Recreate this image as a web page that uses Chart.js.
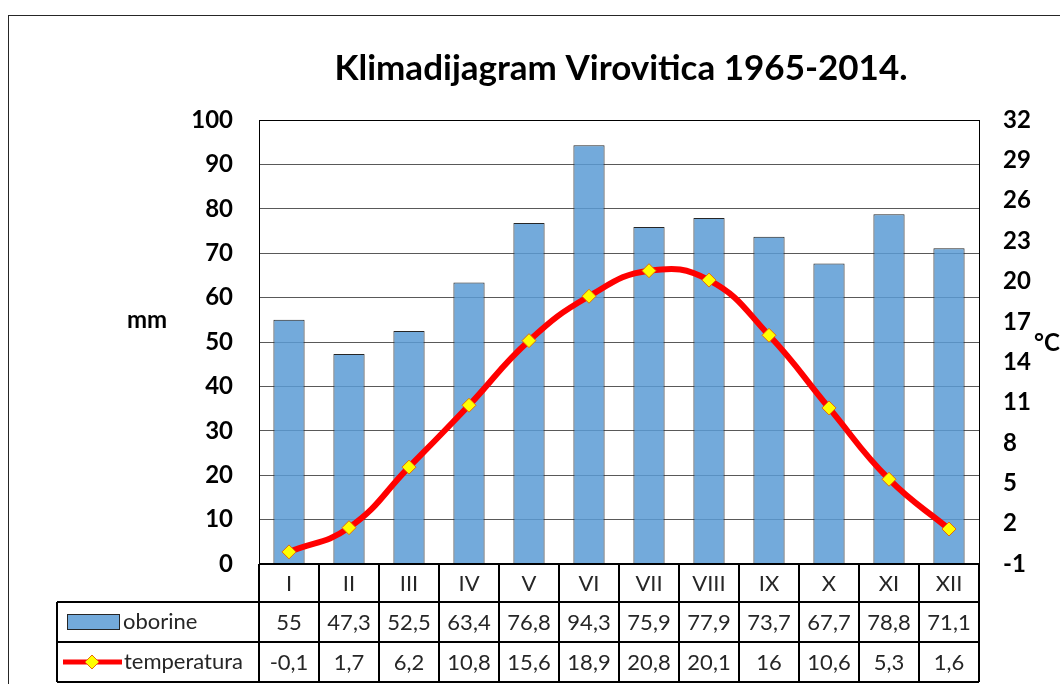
<!DOCTYPE html>
<html>
<head>
<meta charset="utf-8">
<script src="https://cdn.jsdelivr.net/npm/chart.js@4"></script>
<style>
  html, body { margin: 0; padding: 0; background: #fff; }
  #wrap { width: 1060px; height: 684px; }
</style>
</head>
<body>
<div id="wrap"><canvas id="myChart" width="1060" height="684"></canvas></div>
<script>
const months = ['I', 'II', 'III', 'IV', 'V', 'VI', 'VII', 'VIII', 'IX', 'X', 'XI', 'XII'];
const oborine = [55, 47.3, 52.5, 63.4, 76.8, 94.3, 75.9, 77.9, 73.7, 67.7, 78.8, 71.1];
const temperatura = [-0.1, 1.7, 6.2, 10.8, 15.6, 18.9, 20.8, 20.1, 16, 10.6, 5.3, 1.6];
const mmTicks = [0, 10, 20, 30, 40, 50, 60, 70, 80, 90, 100];
const tempTicks = [-1, 2, 5, 8, 11, 14, 17, 20, 23, 26, 29, 32];

const ctx = document.getElementById('myChart');
const font = 'Lato, sans-serif';
const barFill = 'rgba(91, 155, 213, 0.85)';

function fmt(v) {
    return String(v).replace('.', ',');
}

const extras = {
    id: 'extras',
    beforeDraw(chart) {
        const c = chart.ctx;
        c.save();
        c.fillStyle = '#fff';
        c.fillRect(0, 0, chart.width, chart.height);
        c.strokeStyle = '#262626';
        c.lineWidth = 1;
        c.strokeRect(8.5, 15.5, 1080, 700);
        c.restore();
    },
    afterDatasetsDraw(chart) {
        const c = chart.ctx;
        const area = chart.chartArea;
        const x = chart.scales.x;
        c.save();

        // title
        c.fillStyle = '#000';
        c.font = 'bold 35px ' + font;
        c.textAlign = 'center';
        c.textBaseline = 'middle';
        c.fillText('Klimadijagram Virovitica 1965-2014.', 621, 69);

        // axis titles
        c.font = 'bold 24px ' + font;
        c.fillText('mm', 147, 320);
        c.textAlign = 'left';
        c.fillText('°C', 1034, 343);

        // plot border
        c.strokeStyle = '#000';
        c.lineWidth = 1;
        c.strokeRect(area.left + 0.5, area.top + 0.5, area.right - area.left, area.bottom - area.top);

        // data table
        const half = (x.getPixelForValue(1) - x.getPixelForValue(0)) / 2;
        const rows = [area.bottom, 602, 642, 682];
        const tableLeft = 57;
        c.lineWidth = 2;
        c.beginPath();
        c.moveTo(area.left, rows[0]); c.lineTo(area.right, rows[0]);
        for (let r = 1; r < rows.length; r++) {
            c.moveTo(tableLeft, rows[r]); c.lineTo(area.right, rows[r]);
        }
        c.moveTo(tableLeft, rows[1]); c.lineTo(tableLeft, rows[3]);
        months.forEach((m, i) => {
            const px = Math.round(x.getPixelForValue(i) - half);
            c.moveTo(px, rows[0]); c.lineTo(px, rows[3]);
        });
        c.moveTo(area.right, rows[0]); c.lineTo(area.right, rows[3]);
        c.stroke();

        c.fillStyle = '#262626';
        c.font = '22px ' + font;
        c.textAlign = 'center';
        c.textBaseline = 'middle';
        months.forEach((m, i) => {
            const px = x.getPixelForValue(i);
            c.fillText(m, px, (rows[0] + rows[1]) / 2 + 1);
            c.fillText(fmt(oborine[i]), px, (rows[1] + rows[2]) / 2 + 1);
            c.fillText(fmt(temperatura[i]), px, (rows[2] + rows[3]) / 2 + 1);
        });

        // legend keys
        c.fillStyle = barFill;
        c.fillRect(67, 614, 52, 15);
        c.strokeStyle = '#262626';
        c.lineWidth = 1;
        c.strokeRect(67.5, 614.5, 52, 15);
        c.strokeStyle = '#ff0000';
        c.lineWidth = 5;
        c.beginPath();
        c.moveTo(63, 662); c.lineTo(122, 662);
        c.stroke();
        c.fillStyle = '#ffff00';
        c.strokeStyle = '#e46c0a';
        c.lineWidth = 1;
        c.beginPath();
        c.moveTo(92, 655); c.lineTo(99, 662); c.lineTo(92, 669); c.lineTo(85, 662); c.closePath();
        c.fill(); c.stroke();
        c.fillStyle = '#262626';
        c.textAlign = 'left';
        c.fillText('oborine', 123, 622);
        c.fillText('temperatura', 124, 662);
        c.restore();
    }
};

const chart = new Chart(ctx, {
    type: 'bar',
    data: {
        labels: months,
        datasets: [{
            type: 'line',
            label: 'temperatura',
            data: temperatura,
            yAxisID: 'y1',
            borderColor: '#ff0000',
            borderWidth: 6,
            tension: 0.45,
            pointStyle: 'rectRot',
            pointRadius: 7,
            pointBackgroundColor: '#ffff00',
            pointBorderColor: '#e46c0a',
            pointBorderWidth: 1,
            order: 0
        }, {
            label: 'oborine',
            data: oborine,
            yAxisID: 'y',
            backgroundColor: barFill,
            borderColor: '#262626',
            borderWidth: 1,
            categoryPercentage: 1,
            barPercentage: 0.52,
            order: 1
        }]
    },
    options: {
        responsive: false,
        animation: false,
        layout: {
            padding: { top: 120, bottom: 120, left: 0, right: 0 }
        },
        plugins: {
            legend: { display: false },
            title: { display: false },
            tooltip: { enabled: false }
        },
        scales: {
            x: {
                display: false,
                offset: true
            },
            y: {
                position: 'left',
                min: 0,
                max: 100,
                afterFit: (s) => { s.width = 259; },
                afterBuildTicks: (s) => { s.ticks = mmTicks.map(v => ({ value: v })); },
                border: { display: false },
                grid: { color: '#595959', lineWidth: 1, drawTicks: false },
                ticks: {
                    color: '#000',
                    padding: 26,
                    font: { family: font, size: 24, weight: 'bold' }
                }
            },
            y1: {
                position: 'right',
                min: -1,
                max: 32,
                afterFit: (s) => { s.width = 81; },
                afterBuildTicks: (s) => { s.ticks = tempTicks.map(v => ({ value: v })); },
                border: { display: false },
                grid: { display: false, drawTicks: false },
                ticks: {
                    color: '#000',
                    padding: 24,
                    font: { family: font, size: 24, weight: 'bold' }
                }
            }
        }
    },
    plugins: [extras]
});
</script>
</body>
</html>
